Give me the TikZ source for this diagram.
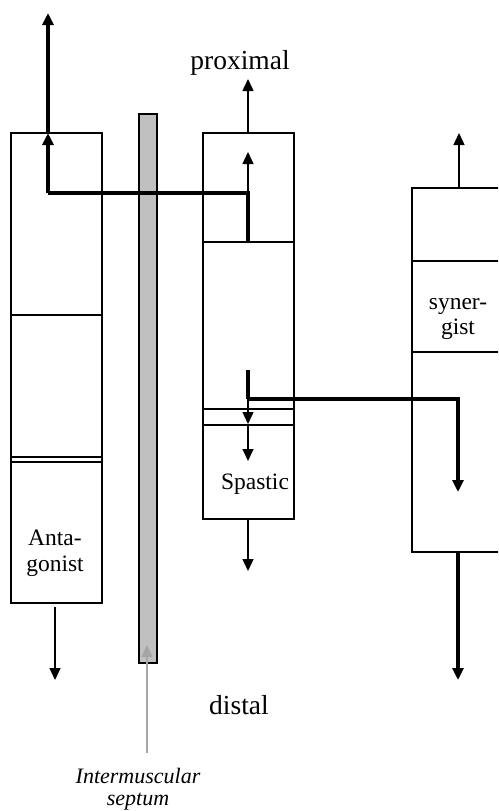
\documentclass[tikz,border=0pt]{standalone}
\usepackage{fontspec}
\setmainfont{Liberation Serif}
\usetikzlibrary{arrows.meta}
\usetikzlibrary{calc}
\usetikzlibrary{positioning}

\begin{document}
\begin{tikzpicture}[>={Triangle[length=12pt,width=11pt]},x=1pt,y=-1pt
  ,line cap=butt,line join=miter,inner sep=0mm
  ,thinforce/.style={line width=1.4pt},thickforce/.style={line width=3.2pt}]
\useasboundingbox (0,0) rectangle (498,811);
\begin{scope}[line width=1.4pt]
\clip (0,0) rectangle (498,811);
% muscles
\draw (11,133) coordinate (A) rectangle (102,603) coordinate (Ab);
\draw (11,315) -- (102,315);
\draw (11,457) -- (102,457) (11,462) -- (102,462);
\draw[fill={rgb,255:red,192;green,192;blue,192}] (139,114) rectangle (157,663) coordinate (Sb);
\draw (203,133) coordinate (P) rectangle (294,519) coordinate (Pb);
\draw (203,242) -- (294,242);
\draw (203,409) -- (294,409) (203,425) -- (294,425);
\draw (412,188) coordinate (Y) rectangle (520,552) coordinate (Yb);
\draw (412,261) -- (520,261);
\draw (412,352) -- (520,352);
\end{scope}
% forces
\coordinate (J1) at (248,193);
\coordinate (J2) at (248,399);
\draw[thickforce] (248,242) -- (J1) -| (48,193) coordinate (K1);
\draw[thickforce,->] (K1) -- (48,133) coordinate (K2);
\draw[thickforce,->] (K2) -- (48,13);
\draw[thinforce,->] (J1) -- (248,152);
\draw[thinforce,->] (248,133) -- (248,79);
\draw[thickforce] (248,370) -- (J2);
\draw[thickforce,->] (J2) -| (458,492);
\draw[thinforce,->] (J2) -- (248,424) coordinate (K3);
\draw[thinforce,->] (K3) -- (248,461);
\draw[thinforce,->] (248,519) -- (248,571);
\draw[thinforce,->] (459,188) -- (459,133);
\draw[thickforce,->] (458,552) -- (458,680);
\draw[thinforce,->] (55,607) -- (55,680);
\draw[thinforce,gray!70,->] (147,753) -- (147,645);
% labels
\node[font=\fontsize{27.5}{30}\selectfont] (prox) at (240,63) {proximal};
\node[font=\fontsize{27.5}{30}\selectfont] (dist) at (239,705) {distal};
\node[font=\fontsize{23.5}{26}\selectfont] (spas) at (255,484) {Spastic};
\node[font=\fontsize{23.5}{26}\selectfont,align=center] (anta) at (55,553) {Anta-\\gonist};
\node[font=\fontsize{23.5}{25}\selectfont,align=center] (syn) at (458,319) {syner-\\gist};
\node[font=\fontsize{22}{22}\selectfont\itshape,align=center] (sept) at (138,789) {Intermuscular\\septum};
\end{tikzpicture}
\end{document}
